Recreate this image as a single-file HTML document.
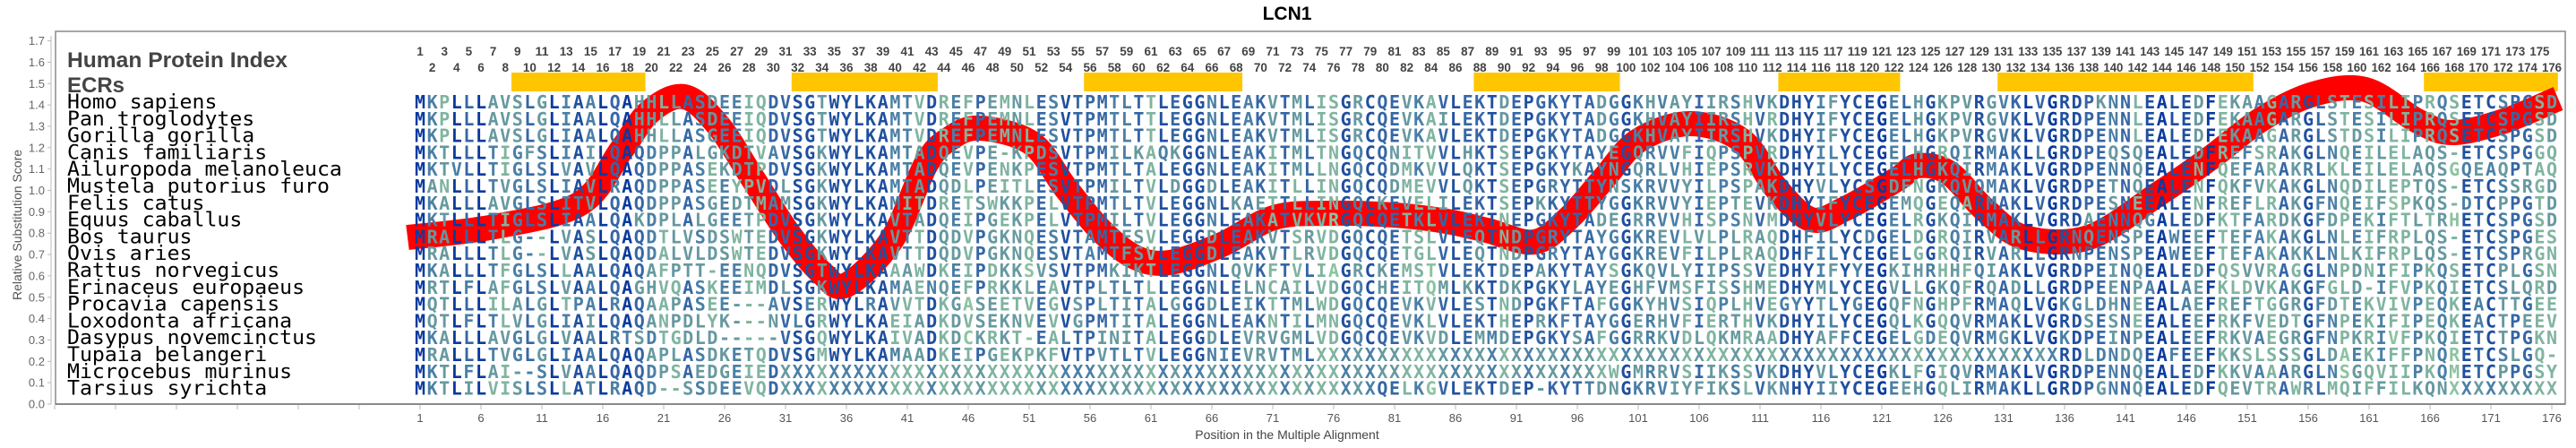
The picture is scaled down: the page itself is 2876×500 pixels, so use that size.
<!DOCTYPE html>
<html><head><meta charset="utf-8">
<style>html,body{margin:0;padding:0;background:#fff;}svg{display:block;}</style>
</head><body>
<svg id="s" xmlns="http://www.w3.org/2000/svg" width="2876" height="500" viewBox="0 0 2876 500">
<rect width="2876" height="500" fill="#fff"/>
<g id="bg"></g>
<g id="curve"></g>
<g id="letters"></g>
<g id="fg"></g>
</svg>
<script>
var NS="http://www.w3.org/2000/svg";
function el(parent,tag,attrs,text){var e=document.createElementNS(NS,tag);for(var k in attrs)e.setAttribute(k,attrs[k]);if(text!==undefined)e.textContent=text;document.getElementById(parent).appendChild(e);return e;}
var X1=469,CW=13.6;function cx(c){return X1+(c-1)*CW;}
var X44="XXXXXXXXXXXXXXXXXXXXXXXXXXXXXXXXXXXXXXXXXXXX";
var names=["Homo sapiens","Pan troglodytes","Gorilla gorilla","Canis familiaris","Ailuropoda melanoleuca","Mustela putorius furo","Felis catus","Equus caballus","Bos taurus","Ovis aries","Rattus norvegicus","Erinaceus europaeus","Procavia capensis","Loxodonta africana","Dasypus novemcinctus","Tupaia belangeri","Microcebus murinus","Tarsius syrichta"];
var seg=[
["MKPLLLAVSLGLIAALQAHHLLASDEEIQDVSGTWYLKAMTVDR","EFPEMNLESVTPMTLTTLEGGNLEAKVTMLISGRCQEVKAVLEK","TDEPGKYTADGGKHVAYIIRSHVKDHYIFYCEGELHGKPVRGVK","LVGRDPKNNLEALEDFEKAAGARGLSTESILIPRQSETCSPGSD"],
["MKPLLLAVSLGLIAALQAHHLLASDEEIQDVSGTWYLKAMTVDR","EFPEMNLESVTPMTLTTLEGGNLEAKVTMLISGRCQEVKAILEK","TDEPGKYTADGGKHVAYIIRSHVRDHYIFYCEGELHGKPVRGVK","LVGRDPENNLEALEDFEKAAGARGLSTESILIPRQSETCSPGSD"],
["MKPLLLAVSLGLIAALQAHHLLASGEEIQDVSGTWYLKAMTVDR","EFPEMNLESVTPMTLTTLEGGNLEAKVTMLISGRCQEVKAVLEK","TDEPGKYTADGGKHVAYIIRSHVKDHYIFYCEGELHGKPVRGVK","LVGRDPENNLEALEDFEKAAGARGLSTDSILIPRQSETCSPGSD"],
["MKTLLLTIGFSLIAILQAQDPPALGKDTVAVSGKWYLKAMTADQ","EVPE-KPDSVTPMILKAQKGGNLEAKITMLTNGQCQNITVVLHK","TSEPGKYTAYEGQRVVFIQPSPVRDHYILYCEGELHGRQIRMAK","LLGRDPEQSQEALEDFREFSRAKGLNQEILELAQS-ETCSPGGQ"],
["MKTVLLTIGLSLVAVLQAQDPPASEKDTPDVSGKWYLKAMTADQ","EVPENKPESVTPMTLTALEGGNLEAKITMLLNGQCQDMKVVLQK","TSEPGKYKAYNGQRLVHIEPSRVKDHYILYCEGELHGKQIRMAK","LVGRDPENNQEALENFQEFARAKRLKLEILELAQSGQEAQPTAQ"],
["MANLLLTVGLSLIAVLRAQDPPASEEYPVDLSGKWYLKAMTADQ","DLPEITLESVTPMILTVLDGGDLEAKITLLINGQCQDMEVVLQK","TSEPGRYTTYNSKRVVYILPSPAKDHYVLYCSGDFNGKQVQMAK","LVGRDPETNQEALENFQKFVKAKGLNQDILEPTQS-ETCSSRGD"],
["MKALLLAVGLSLITVLQAQDPPASGEDTMAMSGKWYLKAMITDR","ETSWKKPELVTPMTLTVLEGGNLKAETTLLINGQCKEVELILEK","TSEPKKYTTYGGKRVVYIEPTEVKDHYIFYCEGEMQGEQARMAK","LVGRDPESNEEALENFREFLRAKGFNQEIFSPKQS-DTCPPGTD"],
["MKTLLLTIGLSLIAALQAKDPLALGEETPDVSGKWYLKAVTADQ","EIPGEKPELVTPMILTVLEGGNLEAKATVKVRGQCQETKLVLEK","TNEPGKYTADEGRRVVHISPSNVMDHYVLYCEGELRGKQIRMAK","LVGRDAENNQGALEDFKTFARDKGFDPEKIFTLTRHETCSPGSD"],
["MRALLLTLG--LVASLQAQDTLVSDSWTEDVSGKWYLKAVTTDQ","DVPGKNQESVTAMTFSVLEGGDLEAKVTSRVDGQCQETSLVLEQ","TNDPGRYTAYGGKREVLVLPLRAQDHFILYCDGELDGRQIRVAR","LLGRNQENSPEAWEEFTEFAKAKGLNLEIFRPLQS-ETCSPGES"],
["MRALLLTLG--LVASLQAQDALVLDSWTEDVSGKWYLKAVTTDQ","DVPGKNQESVTAMTFSVLEGGDLEAKVTLRVDGQCQETGLVLEQ","TNDPGRYTAYGGKREVFILPLRAQDHFILYCEGELGGRQIRVAR","LLGRNPENSPEAWEEFTEFAKAKKLNLKIFRPLQS-ETCSPRGN"],
["MKALLLTFGLSLLAALQAQAFPTT-EENQDVSGTWYLKAAAWDK","EIPDKKSVSVTPMKIKTLEGGNLQVKFTVLIAGRCKEMSTVLEK","TDEPAKYTAYSGKQVLYIIPSSVEDHYIFYYEGKIHRHHFQIAK","LVGRDPEINQEALEDFQSVVRAGGLNPDNIFIPKQSETCPLGSN"],
["MRTLFLAFGLSLVAALQAGHVQASKEEIMDLSGKWYLKAMAENQ","EFPRKKLEAVTPLTLTLLEGGNLELNCAILVDGQCHEITQMLKK","TDKPGKYLAYEGHFVMSFISSHMEDHYMLYCEGVLLGKQFRQAD","LLGRDPEENPAALAEFKLDVKAKGFGLD-IFVPKQIETCSLQRD"],
["MQTLLLILALGLTPALRAQAAPASEE---AVSERWYLRAVVTDK","GASEETVEGVSPLTITALGGGDLEIKTTMLWDGQCQEVKVVLES","TNDPGKFTAFGGKYHVSIQPLHVEGYYTLYGEGQFNGHPFRMAQ","LVGKGLDHNEEALAEFREFTGGRGFDTEKVIVPEQKEACTTGEE"],
["MQTLFLTLVLGLIAILQAQANPDLYK---NVLGRWYLKAEIADK","DVSEKNVEVVGPMTITALEGGNLEAKNTILMNGQCQEVKLVLEK","THEPRKFTAYGGERHVFIERTHVKDHYILYCEGQLKGQQVRMAK","LVGRDSESNEEALEEFRKFVEDTGFNPEKIFIPEQKEACTPEEV"],
["MKALLLAVGLGLVAALRTSDTGDLD-----VSGQWYLKAIVADK","DCKRKT-EALTPINITALEGGDLEVRVGMLVDGQCQEVKVDLEM","MDEPGKYSAFGGRRKVDLQKMRAADHYAFFCEGELGDEQVRMGK","LVGKDPEINPEALEEFRKVAEGRGFNPKRIVFPKQIETCTPGKN"],
["MRALLLTVGLGLIAALQAQAPLASDKETQDVSGMWYLKAMAADK","EIPGEKPKFVTPVTLTVLEGGNIEVRVTMLXXXXXXXXXXXXXX",X44,"XXXRDLDNDQEAFEEFKKSLSSSGLDAEKIFFPNQRETCSLGQ-"],
["MKTLFLAI--SLVAALQAQDPSAEDGEIEDXXXXXXXXXXXXXX",X44,"XXXXXXXXXXWGMRRVSIIKSSVKDHYVLYCEGKLFGIQVRMAK","LVGRDPENNQEALEDFKKVAAARGLNSGQVIIPKQMETCPPGSY"],
["MKTLILVISLSLLATLRAQD--SSDEEVQDXXXXXXXXXXXXXX","XXXXXXXXXXXXXXXXXXXXXXXXXXXXXXXXXXXQELKGVLEK","TDEP-KYTTDNGKRVIYFIKSLVKNHYIIYCEGEEHGQLIRMAK","LLGRDPGNNQEALEDFQEVTRAWRLMQIFFILKQNXXXXXXXXX"]
];
function fix(s){s=s.slice(0,44);while(s.length<44)s+="X";return s;}
var seqs=seg.map(function(r){return r.map(fix).join("");});
var ROW0=121,RH=18.8;
// frame & axes
el("bg","rect",{x:62,y:35,width:2802,height:416,fill:"none",stroke:"#8a8a8a","stroke-width":1.5});
el("bg","line",{x1:57,y1:40,x2:57,y2:451,stroke:"#bbb","stroke-width":1});
for(var i=0;i<=17;i++){var y=451-i*23.85;el("bg","line",{x1:53,y1:y,x2:57,y2:y,stroke:"#bbb"});
el("fg","text",{x:50,y:y+4.5,"text-anchor":"end","font-family":"Liberation Sans, sans-serif","font-size":13,fill:"#666"},(i/10).toFixed(1));}
el("fg","text",{transform:"translate(24,251) rotate(-90)","text-anchor":"middle","font-family":"Liberation Sans, sans-serif","font-size":14,fill:"#555"},"Relative Substitution Score");
el("bg","line",{x1:62,y1:451,x2:2864,y2:451,stroke:"#777","stroke-width":1.5});
for(var k=-6;k<=35;k++){var x=469+k*68;if(x<60||x>2866)continue;el("bg","line",{x1:x,y1:452,x2:x,y2:457,stroke:"#bbb"});
if(k>=0)el("fg","text",{x:x,y:471,"text-anchor":"middle","font-family":"Liberation Sans, sans-serif","font-size":13,fill:"#555"},String(1+5*k));}
el("fg","text",{x:1437,y:490,"text-anchor":"middle","font-family":"Liberation Sans, sans-serif","font-size":14,fill:"#444"},"Position in the Multiple Alignment");
el("fg","text",{x:1437,y:22,"text-anchor":"middle","font-family":"Liberation Sans, sans-serif","font-size":21,"font-weight":"bold",fill:"#000"},"LCN1");
el("fg","text",{x:75,y:75,"font-family":"Liberation Sans, sans-serif","font-size":24,"font-weight":"bold",fill:"#444",textLength:246,lengthAdjust:"spacingAndGlyphs"},"Human Protein Index");
el("fg","text",{x:75,y:103,"font-family":"Liberation Sans, sans-serif","font-size":24,"font-weight":"bold",fill:"#444"},"ECRs");
// column numbers
for(var c=1;c<=176;c++){el("fg","text",{x:cx(c),y:(c%2?62:80),"text-anchor":"middle","font-family":"Liberation Sans, sans-serif","font-size":14,"font-weight":"bold",fill:"#444",textLength:(c>=100?22:(c>=10?15:7.5)),lengthAdjust:"spacingAndGlyphs"},String(c));}
// ECR bars
[[9,19],[32,43],[56,68],[88,99],[113,122],[131,151],[166,176]].forEach(function(b){
el("bg","rect",{x:cx(b[0])-CW/2,y:81,width:(b[1]-b[0]+1)*CW,height:21,fill:"#ffc600"});});
// species names
names.forEach(function(n,i){el("fg","text",{x:75,y:ROW0+i*RH,"font-family":"DejaVu Sans Mono, Liberation Mono, monospace","font-size":22,fill:"#000",textLength:n.length*13.95,lengthAdjust:"spacingAndGlyphs"},n);});
// curve
var P=[[455,265],[552,253],[648,227],[694,167],[725,125],[764,108],[802,140],[841,200],[880,260],[918,305],[945,318],[996,267],[1034,183],[1060,155],[1094,143],[1152,160],[1190,210],[1229,257],[1267,287],[1306,293],[1364,273],[1422,243],[1480,238],[1557,240],[1615,247],[1660,257],[1713,270],[1752,243],[1790,200],[1829,157],[1887,138],[1945,157],[1983,210],[2022,245],[2060,233],[2118,200],[2141,185],[2176,193],[2215,233],[2260,265],[2332,265],[2409,217],[2467,177],[2525,133],[2583,105],[2641,100],[2699,135],[2738,148],[2796,135],[2856,110]];
var d="M"+P[0][0]+","+P[0][1];
for(var i=0;i<P.length-1;i++){var p0=P[Math.max(0,i-1)],p1=P[i],p2=P[i+1],p3=P[Math.min(P.length-1,i+2)];
d+=" C"+(p1[0]+(p2[0]-p0[0])/6)+","+(p1[1]+(p2[1]-p0[1])/6)+" "+(p2[0]-(p3[0]-p1[0])/6)+","+(p2[1]-(p3[1]-p1[1])/6)+" "+p2[0]+","+p2[1];}
el("curve","path",{d:d,fill:"none",stroke:"#ff0000","stroke-width":28,"stroke-linejoin":"round"});
// letters
var pal=["#0a3a9e","#1f4f9f","#3566a6","#4a7fa6","#6699a0","#7fb4a0","#8cc3a0"];
for(var c=0;c<176;c++){var cnt={},mx=0;seqs.forEach(function(s){var ch=s[c];cnt[ch]=(cnt[ch]||0)+1;if(cnt[ch]>mx)mx=cnt[ch];});
var cons=mx/18;
seqs.forEach(function(s,r){var ch=s[c];var f=cnt[ch]/18;var v=0.6*cons+0.4*f;var idx=Math.round((1-v)*(pal.length-1)*1.15);if(idx>6)idx=6;if(idx<0)idx=0;
el("letters","text",{x:cx(c+1),y:ROW0+r*RH,"text-anchor":"middle","font-family":"DejaVu Sans Mono, Liberation Mono, monospace","font-size":20,"font-weight":"bold",fill:pal[idx]},ch);});}
</script>
</body></html>
